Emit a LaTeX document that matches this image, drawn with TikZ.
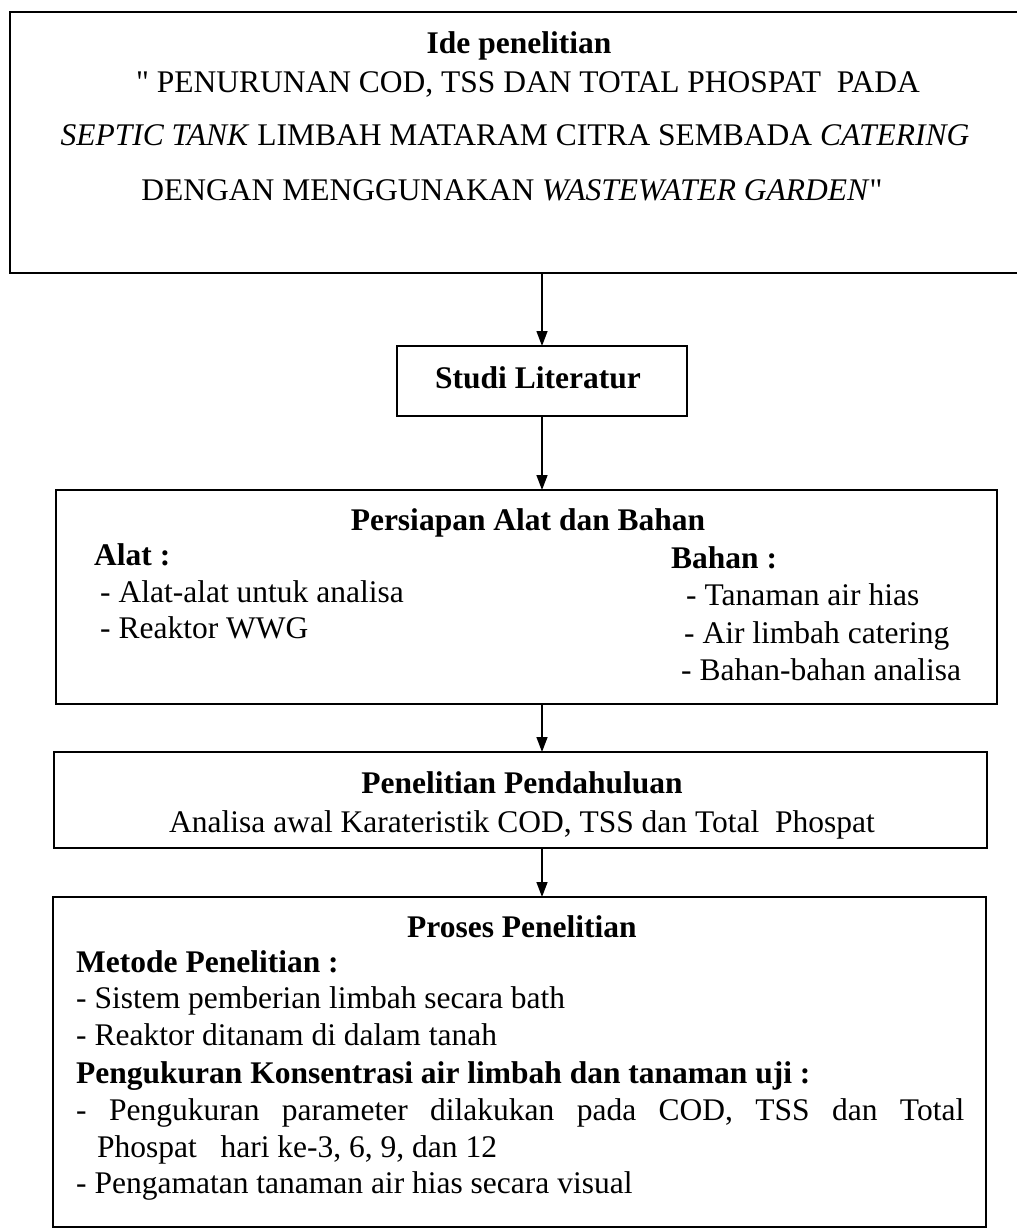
\documentclass[tikz,border=0pt]{standalone}
\usepackage{fontspec}
\setmainfont{Liberation Serif}
\usetikzlibrary{arrows.meta}
\tikzset{
    box/.style={rectangle,draw,line width=1.6pt,inner sep=0pt,outer sep=0pt,anchor=north west},
    txt/.style={inner sep=0pt,anchor=base,font=\fontsize{31.5}{37}\selectfont},
    ltxt/.style={txt,anchor=base west},
    flow/.style={line width=1.4pt,-{Triangle[length=15pt,width=11pt]}}
}

\begin{document}
\begin{tikzpicture}[x=1pt,y=-1pt]
                            \useasboundingbox (0,0) rectangle (1017,1229);
                            % boxes
                            \node[box,minimum width=1020pt,minimum height=261pt] (ide) at (10,12) {};
                            \node[box,minimum width=290pt,minimum height=70pt] (studi) at (397,346) {};
                            \node[box,minimum width=941pt,minimum height=214pt] (persiapan) at (56,490) {};
                            \node[box,minimum width=933pt,minimum height=96pt] (pendahuluan) at (54,752) {};
                            \node[box,minimum width=933pt,minimum height=330pt] (proses) at (53,897) {};
                            % arrows
                            \draw[flow] (ide.south -| studi.north) -- (studi.north);
                            \draw[flow] (studi.south) -- (studi.south |- persiapan.north);
                            \draw[flow] (persiapan.south -| studi.south) -- (pendahuluan.north -| studi.south);
                            \draw[flow] (pendahuluan.south -| studi.south) -- (proses.north -| studi.south);
                            % ide penelitian
                            \node[txt] (ideT) at (519,53) {\textbf{Ide penelitian}};
                            \node[txt] (ide1) at (528,92) {\textquotedbl\ PENURUNAN COD, TSS DAN TOTAL PHOSPAT\ \ PADA};
                            \node[txt] (ide2) at (515,145) {\textit{SEPTIC TANK} LIMBAH MATARAM CITRA SEMBADA \textit{CATERING}};
                            \node[txt] (ide3) at (512,200) {DENGAN MENGGUNAKAN \textit{WASTEWATER GARDEN}\textquotedbl};
                            % studi literatur
                            \node[txt] (studiT) at (538,388) {\textbf{Studi Literatur}};
                            % persiapan alat dan bahan
                            \node[txt] (persiapanT) at (528,530) {\textbf{Persiapan Alat dan Bahan}};
                            \node[ltxt] (alat) at (94,565) {\textbf{Alat :}};
                            \node[ltxt] (alat1) at (100,602) {- Alat-alat untuk analisa};
                            \node[ltxt] (alat2) at (100,638) {- Reaktor WWG};
                            \node[ltxt] (bahan) at (671,568) {\textbf{Bahan :}};
                            \node[ltxt] (bahan1) at (686,605) {- Tanaman air hias};
                            \node[ltxt] (bahan2) at (684,643) {- Air limbah catering};
                            \node[ltxt] (bahan3) at (681,680) {- Bahan-bahan analisa};
                            % penelitian pendahuluan
                            \node[txt] (pendahuluanT) at (522,793) {\textbf{Penelitian Pendahuluan}};
                            \node[txt] (pendahuluan1) at (522,832) {Analisa awal Karateristik COD, TSS dan Total\ \ Phospat};
                            % proses penelitian
                            \node[txt] (prosesT) at (522,937) {\textbf{Proses Penelitian}};
                            \node[ltxt] (metode) at (76,972) {\textbf{Metode Penelitian :}};
                            \node[ltxt] (metode1) at (76,1008) {- Sistem pemberian limbah secara bath};
                            \node[ltxt] (metode2) at (76,1045) {- Reaktor ditanam di dalam tanah};
                            \node[ltxt] (ukur) at (76,1083) {\textbf{Pengukuran Konsentrasi air limbah dan tanaman uji :}};
                            \node[ltxt] (ukur1) at (76,1120) {\makebox[888pt][s]{- Pengukuran parameter dilakukan pada COD, TSS dan Total}};
                            \node[ltxt] (ukur2) at (97,1157) {Phospat\ \ \ hari ke-3, 6, 9, dan 12};
                            \node[ltxt] (ukur3) at (76,1193) {- Pengamatan tanaman air hias secara visual};
                        \end{tikzpicture}
\end{document}
